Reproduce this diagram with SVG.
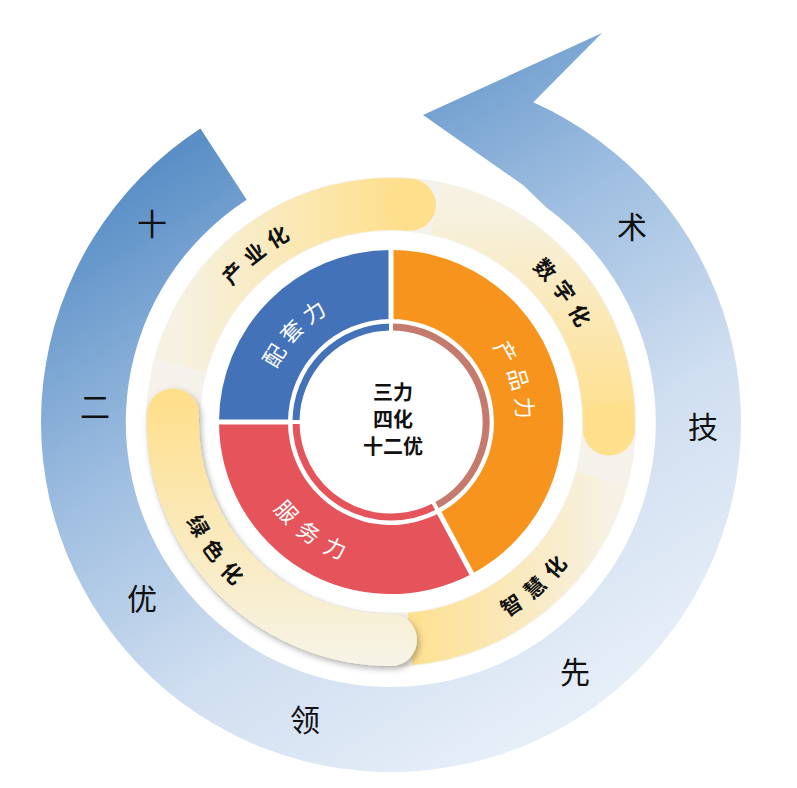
<svg xmlns="http://www.w3.org/2000/svg" width="797" height="788" viewBox="0 0 797 788">
<defs>
<linearGradient id="gBlue" gradientUnits="userSpaceOnUse" x1="170" y1="90" x2="560" y2="720">
<stop offset="0" stop-color="#4a84c0"/><stop offset="0.4" stop-color="#9dbde0"/><stop offset="0.7" stop-color="#cfdef0"/><stop offset="1" stop-color="#e6eef8"/></linearGradient>
<linearGradient id="gTop" gradientUnits="userSpaceOnUse" x1="180" y1="0" x2="400" y2="0"><stop offset="0" stop-color="#f6f1e0"/><stop offset="1" stop-color="#fedf8c"/></linearGradient>
<linearGradient id="gRight" gradientUnits="userSpaceOnUse" x1="0" y1="210" x2="0" y2="420"><stop offset="0" stop-color="#f6f1e0"/><stop offset="1" stop-color="#fedf8c"/></linearGradient>
<linearGradient id="gBR" gradientUnits="userSpaceOnUse" x1="610" y1="0" x2="400" y2="0"><stop offset="0" stop-color="#f6f1e3"/><stop offset="1" stop-color="#fedf8c"/></linearGradient>
<linearGradient id="gLeft" gradientUnits="userSpaceOnUse" x1="0" y1="400" x2="0" y2="660"><stop offset="0" stop-color="#fedf8c"/><stop offset="1" stop-color="#f6f3e6"/></linearGradient>
<filter id="sh" x="-20%" y="-20%" width="140%" height="140%"><feDropShadow dx="2" dy="3" stdDeviation="3" flood-opacity="0.3"/></filter>
<path id="pPeitao" d="M255.3,412.5 A136 136 0 0 1 376.8,286.7"/>
<path id="pChanpin" d="M465.1,307.9 A136 136 0 0 1 516.2,475.1"/>
<path id="pFuwu" d="M259.6,457.2 A136 136 0 0 0 402.9,557.5"/>
<path id="pChanye" d="M177.8,376.7 A218 218 0 0 1 398.6,204.1"/>
<path id="pShuzi" d="M443.7,210.5 A218 218 0 0 1 608.5,437.2"/>
<path id="pZhihui" d="M398.6,639.9 A218 218 0 0 0 606.9,452.3"/>
<path id="pLvse" d="M173.3,410.6 A218 218 0 0 0 342.0,634.4"/>
</defs>
<style>
.big{font-family:"Noto Sans CJK SC",sans-serif;font-size:30px;fill:#111;text-anchor:middle;dominant-baseline:central}
.seg{font-family:"Noto Sans CJK SC",sans-serif;font-size:22px;fill:#fff;letter-spacing:8px;dominant-baseline:central}
.yl{font-family:"Noto Sans CJK SC",sans-serif;font-size:21px;font-weight:bold;fill:#111;letter-spacing:8px;dominant-baseline:central}
.ctr{font-family:"Noto Sans CJK SC",sans-serif;font-size:20px;font-weight:bold;fill:#111;text-anchor:middle}
.band{fill:none;stroke-width:52;stroke-linecap:butt}
.band.rnd{stroke-linecap:round}
</style>
<rect width="797" height="788" fill="#fff"/>
<g id="arrow">
<path d="M200.4,128.5 A350 350 0 1 0 533.3,102.3 L602,33 L423,115 L523,185 L547,208 A265 265 0 1 1 246.7,199.7 Z" fill="url(#gBlue)"/>
<text class="big" x="152" y="222">十</text>
<text class="big" x="95" y="405">二</text>
<text class="big" x="142" y="597">优</text>
<text class="big" x="305" y="718">领</text>
<text class="big" x="575" y="670">先</text>
<text class="big" x="703" y="425">技</text>
<text class="big" x="632" y="225">术</text>
</g>
<g id="yellow-ring">
<circle cx="391" cy="422" r="218" fill="none" stroke="#f4f2ea" stroke-width="54"/>
<path class="band" d="M180.4,365.6 A218 218 0 0 1 410,204.8" stroke="url(#gTop)"/>
<circle cx="410" cy="204.8" r="26" fill="#fedf8c"/>
<path class="band" d="M436.3,208.8 A218 218 0 0 1 608.9,429.6" stroke="url(#gRight)"/>
<circle cx="608.9" cy="429.6" r="26" fill="#fedf8c"/>
<path class="band" d="M601.6,478.4 A218 218 0 0 1 410,639" stroke="url(#gBR)"/>
<path class="band rnd" d="M173.1,414.4 A218 218 0 0 0 391,640" stroke="url(#gLeft)" filter="url(#sh)"/>
</g>
<g id="labels-yellow">
<text class="yl"><textPath href="#pChanye" startOffset="50%" text-anchor="middle">产业化</textPath></text>
<text class="yl"><textPath href="#pShuzi" startOffset="50%" text-anchor="middle">数字化</textPath></text>
<text class="yl"><textPath href="#pZhihui" startOffset="50%" text-anchor="middle">智慧化</textPath></text>
<text class="yl"><textPath href="#pLvse" startOffset="50%" text-anchor="middle">绿色化</textPath></text>
</g>
<g id="donut">
<path d="M391,250 A172 172 0 0 1 471.8,573.9 L439.4,512.9 A103 103 0 0 0 391,319 Z" fill="#f7941d"/>
<path d="M471.8,573.9 A172 172 0 0 1 219,422 L288,422 A103 103 0 0 0 439.4,512.9 Z" fill="#e5545a"/>
<path d="M219,422 A172 172 0 0 1 391,250 L391,319 A103 103 0 0 0 288,422 Z" fill="#4472b8"/>
<g stroke="#fff" stroke-width="5"><line x1="391" y1="245" x2="391" y2="330"/><line x1="214" y1="422" x2="300" y2="422"/><line x1="474" y1="578" x2="435" y2="505"/></g>
<path d="M391,327 A95 95 0 0 1 435.6,505.9" fill="none" stroke="#c47a6c" stroke-width="7"/>
<path d="M435.6,505.9 A95 95 0 0 1 296,422" fill="none" stroke="#e5545a" stroke-width="7"/>
<path d="M296,422 A95 95 0 0 1 391,327" fill="none" stroke="#4472b8" stroke-width="7"/>
<g stroke="#fff" stroke-width="4"><line x1="391" y1="322" x2="391" y2="333"/><line x1="290" y1="422" x2="302" y2="422"/><line x1="438" y1="511" x2="432" y2="500"/></g>
<text class="seg"><textPath href="#pPeitao" startOffset="50%" text-anchor="middle">配套力</textPath></text>
<text class="seg"><textPath href="#pChanpin" startOffset="50%" text-anchor="middle">产品力</textPath></text>
<text class="seg"><textPath href="#pFuwu" startOffset="50%" text-anchor="middle">服务力</textPath></text>
</g>
<g id="center">
<text class="ctr" x="393" y="400">三力</text>
<text class="ctr" x="393" y="427">四化</text>
<text class="ctr" x="393" y="454">十二优</text>
</g>
</svg>
